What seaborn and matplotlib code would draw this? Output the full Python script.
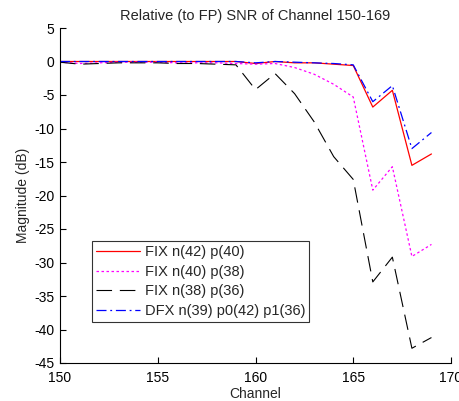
import matplotlib
matplotlib.use("Agg")
import matplotlib.pyplot as plt
import seaborn as sns
import pandas as pd

channels = list(range(150, 170))
fix_42_40 = [0.0, 0.0, 0.0, 0.0, 0.0, 0.0, 0.0, 0.0, 0.0, 0.0,
             -0.3, 0.0, -0.2, -0.2, -0.4, -0.6, -6.8, -4.3, -15.5, -13.8]
fix_40_38 = [-0.1, -0.3, -0.2, -0.1, -0.1, -0.1, -0.2, -0.2, -0.2, -0.3,
             -0.4, -0.3, -0.9, -1.9, -3.4, -5.3, -19.2, -15.7, -29.1, -27.3]
fix_38_36 = [-0.1, -0.4, -0.3, -0.2, -0.2, -0.2, -0.3, -0.3, -0.4, -0.5,
             -4.2, -1.8, -4.8, -9.0, -14.2, -17.6, -32.9, -29.2, -42.8, -41.2]
dfx_39 = [0.0, 0.0, 0.0, 0.0, 0.0, 0.0, 0.0, 0.0, 0.0, 0.0,
          -0.2, 0.0, -0.1, -0.2, -0.3, -0.5, -6.0, -3.6, -13.0, -10.6]
labels = ["FIX n(42) p(40)", "FIX n(40) p(38)", "FIX n(38) p(36)", "DFX n(39) p0(42) p1(36)"]
series = [fix_42_40, fix_40_38, fix_38_36, dfx_39]

title = "Relative (to FP) SNR of Channel 150-169"
xlabel = "Channel"
ylabel = "Magnitude (dB)"
xticks = [150, 155, 160, 165, 170]
yticks = [5, 0, -5, -10, -15, -20, -25, -30, -35, -40, -45]

sns.set_theme(style="white")
plt.rcParams['font.family'] = ['Liberation Sans', 'DejaVu Sans']
plt.rcParams['axes.unicode_minus'] = False

fig = plt.figure(figsize=(4.6, 4.01), dpi=100)
ax = fig.add_axes([60/460, 1-363/401, 391/460, 335/401])

colors = ["#ff0000", "#ff00ff", "#000000", "#0000ff"]
styles = ["-", (0, (2, 2)), (0, (14, 7)), (0, (8, 3, 1.5, 3))]
widths = [0.9, 0.9, 0.8, 0.9]

for lab, vals, c, ls, lw in zip(labels, series, colors, styles, widths):
    df = pd.DataFrame({"Channel": channels, "Magnitude": vals})
    sns.lineplot(data=df, x="Channel", y="Magnitude", ax=ax, color=c,
                 linestyle=ls, linewidth=lw, label=lab)

ax.set_xlim(150, 170)
ax.set_ylim(-45, 5)
ax.set_xticks(xticks)
ax.set_yticks(yticks)
ax.tick_params(direction="in", length=4, width=0.8, labelsize=10,
               colors="black", bottom=True, left=True)
ax.tick_params(axis="x", pad=6)
ax.tick_params(axis="y", pad=4)
for s in ["top", "right"]:
    ax.spines[s].set_visible(False)
for s in ["left", "bottom"]:
    ax.spines[s].set_color("black")
    ax.spines[s].set_linewidth(0.8)
ax.set_title(title, fontsize=10.5, pad=6)
ax.set_xlabel(xlabel, fontsize=10, labelpad=1.5)
ax.set_ylabel(ylabel, fontsize=10, labelpad=3)

leg = ax.legend(loc="lower left", bbox_to_anchor=(0.082, 0.122), fontsize=10.5,
                handlelength=3.0, frameon=True, fancybox=False, borderpad=0.3,
                labelspacing=0.38, handletextpad=0.3, borderaxespad=0)
leg.get_frame().set_edgecolor("black")
leg.get_frame().set_linewidth(0.8)

fig.savefig("out.png", dpi=100)
